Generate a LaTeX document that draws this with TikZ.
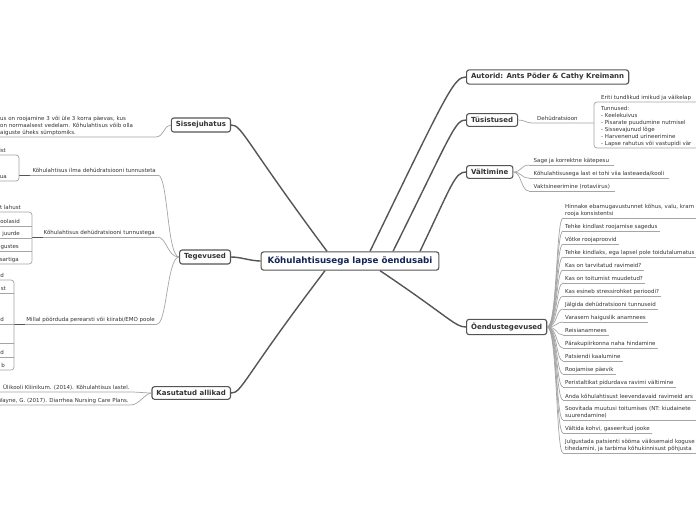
\documentclass[tikz,border=0pt]{standalone}
\usepackage{fontspec}
\setmainfont{DejaVu Sans}
\definecolor{MMDark}{RGB}{85,85,85}
\definecolor{MMLine}{RGB}{165,165,165}
\definecolor{MMNavy}{RGB}{20,36,86}
\definecolor{MMText}{RGB}{51,51,51}

\begin{document}
\begin{tikzpicture}[x=1pt, y=-1pt,
    topic/.style={draw=MMDark, line width=1.1pt, rounded corners=2.5pt, fill=white, text=MMText,
        font=\fontsize{7}{8}\selectfont\bfseries, inner xsep=4.5pt, inner ysep=3.6pt},
    root/.style={topic, text=MMNavy, font=\fontsize{8.7}{10}\selectfont\bfseries, inner xsep=6.5pt, inner ysep=4.8pt},
    leaf/.style={text=MMText, font=\fontsize{5.5}{7}\selectfont, inner xsep=2pt, inner ysep=1.5pt, align=left},
    one/.style={text depth=1.3pt},
    cut/.style={text width=170pt},
    branch/.style={draw=MMDark, line width=1.4pt},
    twig/.style={draw=MMLine, line width=0.7pt}]
        % Canvas
        \fill[white] (0,0) rectangle (696,520);
        \useasboundingbox (0,0) rectangle (696,520);
        \clip (0,0) rectangle (696,520);

        % Main topics
        \node[root] (root) at (350,261) {Kõhulahtisusega lapse õendusabi};
        \node[topic, anchor=west] (autorid) at (466,77) {Autorid: Ants Põder \& Cathy Kreimann};
        \node[topic, anchor=west] (tusistused) at (466,120) {Tüsistused};
        \node[topic, anchor=west] (valtimine) at (466,172) {Vältimine};
        \node[topic, anchor=west] (oendus) at (466,327) {Õendustegevused};
        \node[topic, anchor=east] (intro) at (231,125) {Sissejuhatus};
        \node[topic, anchor=east] (tegevused) at (231,257) {Tegevused};
        \node[topic, anchor=east] (allikad) at (231,393) {Kasutatud allikad};

        % Branches
        \draw[branch] ([xshift=20pt]root.north) .. controls +(78,-161) and +(-12,0) .. (autorid.west);
        \draw[branch] ([xshift=43pt]root.north) .. controls +(60,-121) and +(-11,0) .. (tusistused.west);
        \draw[branch] ([xshift=70pt]root.north) .. controls +(32,-67) and +(-11,0) .. (valtimine.west);
        \draw[branch] ([xshift=30pt]root.south) .. controls +(70,47) and +(-11,0) .. (oendus.west);
        \draw[branch] ([xshift=-23pt]root.north) .. controls +(-84,-113) and +(11,0) .. (intro.east);
        \draw[branch] ([xshift=-25pt]root.south) .. controls +(-83,109) and +(11,0) .. (allikad.east);
        \draw[branch] (tegevused.east) .. controls +(10,0) and +(-10,0) .. (root.west);

        % Sissejuhatus
        \node[leaf, anchor=south west, text width=153pt] (introtxt) at (-2,137)
            {us on roojamine 3 või üle 3 korra päevas, kus\\ on normaalsest vedelam. Kõhulahtisus võib olla\\aiguste üheks sümptomiks.};
        \draw[twig] (introtxt.south west) -- (introtxt.south east) .. controls +(9,0) and +(-7,0) .. (intro.west);

        % Tegevused
        \node[leaf, one, anchor=south east] (g1) at (158,175) {Kõhulahtisus ilma dehüdratsiooni tunnusteta};
        \node[leaf, one, anchor=south east] (g2) at (157,237) {Kõhulahtisus dehüdratsiooni tunnustega};
        \node[leaf, one, anchor=south east] (g3) at (157,324) {Millal pöörduda perearsti või kiirabi/EMO poole};
        \coordinate (b1) at (19,175);
        \coordinate (b2) at (32,237);
        \coordinate (b3) at (14,324);
        \foreach \g in {1,2,3} {
            \draw[twig] (b\g) -- (g\g.south east);
            \draw[twig] (tegevused.west) .. controls +(-12,0) and +(10,0) .. (g\g.south east);
            \draw[MMDark, line width=1pt] (b\g) -- ++(11,0);
        }
        \draw[twig, rounded corners=3pt] (-5,155) -- (b1 |- 0,155) -- (b1 |- 0,181) -- (-5,181);
        \draw[twig, rounded corners=3pt] (-5,212) -- (b2 |- 0,212) -- (b2 |- 0,264) -- (-5,264);
        \draw[twig, rounded corners=3pt] (-5,280) -- (b3 |- 0,280) -- (b3 |- 0,370) -- (-5,370);
        \foreach \y in {226,238,251} \draw[twig] (-5,\y) -- (b2 |- 0,\y);
        \foreach \y in {293,324,343,357} \draw[twig] (-5,\y) -- (b3 |- 0,\y);
        \foreach \x/\y/\t [count=\i] in {8/155/nist, 9/181/uua, 23/212/t lahust, 22/226/soolasid, 22/238/u juurde,
            21/251/ogustes, 21/264/sartiga, 6/280/d, 8/293/st, 6/324/d, 6/357/d, 7/370/b}
            \node[leaf, one, anchor=south east] (f\i) at (\x,\y) {\t};

        % Kasutatud allikad
        \node[leaf, one, anchor=south west] (s1) at (1,392) {Ülikooli Kliinikum. (2014). Kõhulahtisus lastel.};
        \node[leaf, one, anchor=south west] (s2) at (-5,405) {Wayne, G. (2017). Diarrhea Nursing Care Plans.};
        \draw[twig] ([xshift=-8pt]s1.south west) -- (s1.south east) .. controls +(4,0) and +(-4,0) .. (allikad.west);
        \draw[twig] ([xshift=-8pt]s2.south west) -- (s2.south east) .. controls +(8,0) and +(-6,0) .. (allikad.west);

        % Tusistused
        \node[leaf, one, anchor=south west, inner xsep=5pt] (dehyd) at (532,123) {Dehüdratsioon};
        \coordinate (dj) at (594,123);
        \draw[twig] (tusistused.east) .. controls +(7,0) and +(-6,0) .. (dehyd.south west) -- (dehyd.south east) -- (dj);
        \draw[twig, rounded corners=3pt] (700,102) -- (dj |- 0,102) -- (dj |- 0,148) -- (700,148);
        \node[leaf, one, anchor=south west] (eriti) at (599,102) {Eriti tundlikud imikud ja väikelap};
        \node[leaf, anchor=south west] (tunnused) at (599,148)
            {Tunnused:\\- Keelekuivus\\- Pisarate puudumine nutmisel\\- Sissevajunud lõge\\- Harvenenud urineerimine\\- Lapse rahutus või vastupidi vär};

        % Valtimine
        \foreach \n/\y/\t in {1/165/{Sage ja korrektne kätepesu}, 2/178/{Kõhulahtisusega last ei tohi viia lasteaeda/kooli},
            3/191/{Vaktsineerimine (rotaviirus)}} {
            \node[leaf, one, anchor=south west, inner xsep=4.5pt] (v\n) at (529,\y) {\t};
            \draw[twig] (v\n.south west) -- (v\n.south east);
            \draw[twig] (valtimine.east) .. controls +(8,0) and +(-8,0) .. (v\n.south west);
        }

        % Oendustegevused
        \foreach \n/\y/\t in {2/231/{Tehke kindlast roojamise sagedus}, 3/244/{Võtke roojaproovid},
            5/270/{Kas on tarvitatud ravimeid?}, 6/283/{Kas on toitumist muudetud?},
            7/296/{Kas esineb stressirohket perioodi?}, 8/309/{Jälgida dehüdratsiooni tunnuseid},
            9/322/{Varasem haiguslik anamnees}, 10/335/{Reisianamnees}, 11/348/{Pärakupiirkonna naha hindamine},
            12/361/{Patsiendi kaalumine}, 13/374/{Roojamise päevik}, 14/387/{Peristaltikat pidurdava ravimi vältimine},
            17/433/{Vältida kohvi, gaseeritud jooke}} {
            \node[leaf, one, anchor=south west] (o\n) at (563,\y) {\t};
            \draw[twig] (o\n.south west) -- (o\n.south east);
            \draw[twig] (oendus.east) .. controls +(10,0) and +(-7,0) .. (o\n.south west);
        }
        \foreach \n/\y/\t in {1/218/{Hinnake ebamugavustunnet kõhus, valu, kram\\rooja konsistentsi},
            4/257/{Tehke kindlaks, ega lapsel pole toidutalumatus},
            15/400/{Anda kõhulahtisust leevendavaid ravimeid ars},
            16/420/{Soovitada muutusi toitumises (NT: kiudainete\\suurendamine)},
            18/453/{Julgustada patsienti sööma väiksemaid koguse\\tihedamini, ja tarbima kõhukinnisust põhjusta}} {
            \node[leaf, cut, anchor=south west] (o\n) at (563,\y) {\t};
            \draw[twig] (o\n.south west) -- (o\n.south east);
            \draw[twig] (oendus.east) .. controls +(10,0) and +(-7,0) .. (o\n.south west);
        }
    \end{tikzpicture}
\end{document}
